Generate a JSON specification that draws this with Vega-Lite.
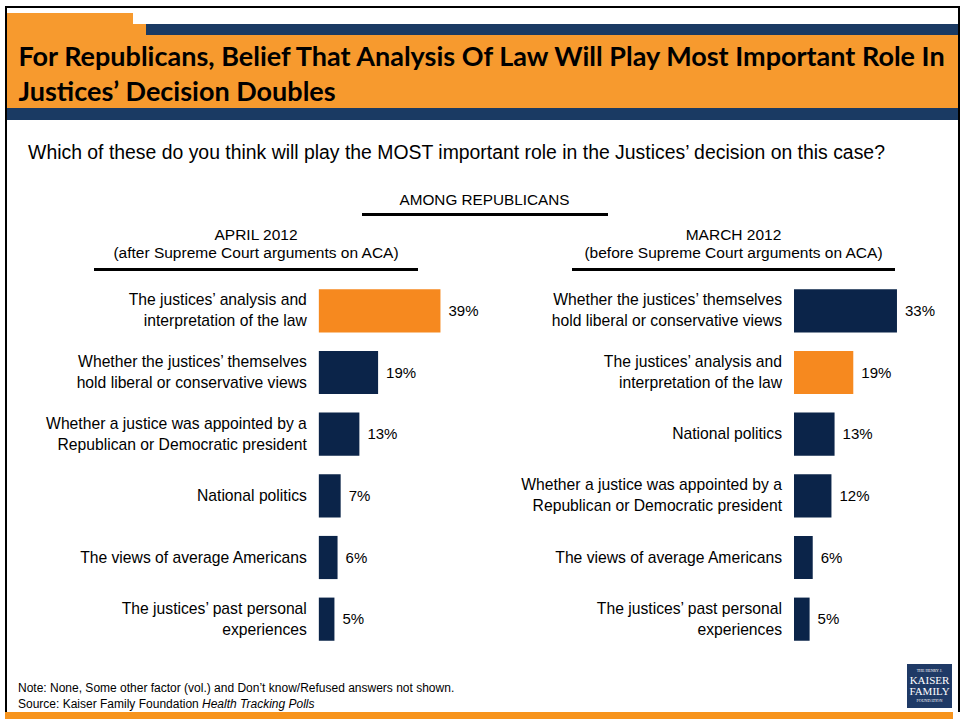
{
  "$schema": "https://vega.github.io/schema/vega-lite/v6.json",
  "padding": {"left": 5, "top": 6, "right": 0, "bottom": 0},
  "background": "white",
  "config": {"font": "Liberation Sans", "view": {"stroke": null}, "concat": {"spacing": 0}},
  "datasets": {
    "april": [
      {"factor": "The justices’ analysis and\ninterpretation of the law", "share": 0.39, "kind": "law"},
      {"factor": "Whether the justices’ themselves\nhold liberal or conservative views", "share": 0.19, "kind": "other"},
      {"factor": "Whether a justice was appointed by a\nRepublican or Democratic president", "share": 0.13, "kind": "other"},
      {"factor": "National politics", "share": 0.07, "kind": "other"},
      {"factor": "The views of average Americans", "share": 0.06, "kind": "other"},
      {"factor": "The justices’ past personal\nexperiences", "share": 0.05, "kind": "other"}
    ],
    "march": [
      {"factor": "Whether the justices’ themselves\nhold liberal or conservative views", "share": 0.33, "kind": "other"},
      {"factor": "The justices’ analysis and\ninterpretation of the law", "share": 0.19, "kind": "law"},
      {"factor": "National politics", "share": 0.13, "kind": "other"},
      {"factor": "Whether a justice was appointed by a\nRepublican or Democratic president", "share": 0.12, "kind": "other"},
      {"factor": "The views of average Americans", "share": 0.06, "kind": "other"},
      {"factor": "The justices’ past personal\nexperiences", "share": 0.05, "kind": "other"}
    ]
  },
  "spacing": 0,
  "vconcat": [
    {
      "spacing": 0,
      "hconcat": [
        {"width": 2, "height": 706, "data": {"values": []}, "mark": "text", "encoding": {}, "view": {"fill": "#000000", "stroke": null}},
        {
          "spacing": 0,
          "vconcat": [
            {"width": 951, "height": 2, "data": {"values": []}, "mark": "text", "encoding": {}, "view": {"fill": "#000000", "stroke": null}},
            {"width": 951, "height": 5, "data": {"values": []}, "mark": "text", "encoding": {}, "view": {"fill": "#ffffff", "stroke": null}},
            {"spacing": 0, "hconcat": [
              {"width": 126, "height": 11, "data": {"values": []}, "mark": "text", "encoding": {}, "view": {"fill": "#F79A2E", "stroke": null}},
              {"width": 825, "height": 11, "data": {"values": []}, "mark": "text", "encoding": {}, "view": {"fill": "#ffffff", "stroke": null}}
            ]},
            {"spacing": 0, "hconcat": [
              {"width": 139, "height": 11, "data": {"values": []}, "mark": "text", "encoding": {}, "view": {"fill": "#F79A2E", "stroke": null}},
              {"width": 812, "height": 11, "data": {"values": []}, "mark": "text", "encoding": {}, "view": {"fill": "#1A3A63", "stroke": null}}
            ]},
            {
              "width": 951, "height": 73,
              "view": {"fill": "#F79A2E", "stroke": null},
              "data": {"values": [{"t": "For Republicans, Belief That Analysis Of Law Will Play Most Important Role In\nJustices’ Decision Doubles"}]},
              "mark": {"type": "text", "align": "left", "baseline": "middle", "dx": -464, "dy": -13.5, "lineBreak": "\n", "fontSize": 27, "lineHeight": 35, "fontWeight": "bold", "font": "Lato", "color": "#000000"},
              "encoding": {"text": {"field": "t"}}
            },
            {"width": 951, "height": 12, "data": {"values": []}, "mark": "text", "encoding": {}, "view": {"fill": "#1A3A63", "stroke": null}},
            {
              "width": 951, "height": 66,
              "data": {"values": [{"t": "Which of these do you think will play the MOST important role in the Justices’ decision on this case?"}]},
              "mark": {"type": "text", "align": "center", "baseline": "middle", "dx": -26, "fontSize": 19.4, "color": "#000000"},
              "encoding": {"text": {"field": "t"}}
            },
            {
              "width": 951, "height": 27,
              "data": {"values": [{"t": "AMONG REPUBLICANS"}]},
              "mark": {"type": "text", "align": "center", "baseline": "middle", "dx": 2, "fontSize": 15.3, "color": "#000000"},
              "encoding": {"text": {"field": "t"}}
            },
            {"spacing": 0, "hconcat": [
              {"width": 355, "height": 3, "data": {"values": []}, "mark": "text", "encoding": {}, "view": {"fill": "#ffffff", "stroke": null}},
              {"width": 246, "height": 3, "data": {"values": []}, "mark": "text", "encoding": {}, "view": {"fill": "#000000", "stroke": null}}
            ]},
            {"spacing": 0, "hconcat": [
              {"width": 87, "height": 52, "data": {"values": []}, "mark": "text", "encoding": {}},
              {
                "width": 324, "height": 52,
                "data": {"values": [{"t": "APRIL 2012\n(after Supreme Court arguments on ACA)"}]},
                "mark": {"type": "text", "align": "center", "baseline": "middle", "dy": -7, "lineBreak": "\n", "lineHeight": 18, "fontSize": 15.5, "color": "#000000"},
                "encoding": {"text": {"field": "t"}}
              },
              {"width": 154, "height": 52, "data": {"values": []}, "mark": "text", "encoding": {}},
              {
                "width": 323, "height": 52,
                "data": {"values": [{"t": "MARCH 2012\n(before Supreme Court arguments on ACA)"}]},
                "mark": {"type": "text", "align": "center", "baseline": "middle", "dy": -7, "lineBreak": "\n", "lineHeight": 18, "fontSize": 15.5, "color": "#000000"},
                "encoding": {"text": {"field": "t"}}
              }
            ]},
            {"spacing": 0, "hconcat": [
              {"width": 87, "height": 3, "data": {"values": []}, "mark": "text", "encoding": {}},
              {"width": 324, "height": 3, "data": {"values": []}, "mark": "text", "encoding": {}, "view": {"fill": "#000000", "stroke": null}},
              {"width": 154, "height": 3, "data": {"values": []}, "mark": "text", "encoding": {}},
              {"width": 323, "height": 3, "data": {"values": []}, "mark": "text", "encoding": {}, "view": {"fill": "#000000", "stroke": null}}
            ]},
            {"width": 951, "height": 9, "data": {"values": []}, "mark": "text", "encoding": {}},
            {"spacing": 0, "hconcat": [
              {
                "width": 474, "height": 370,
                "data": {"name": "april"},
                "encoding": {
                  "y": {"field": "factor", "type": "nominal", "sort": {"field": "share", "op": "max", "order": "descending"}, "axis": null, "scale": {"paddingInner": 0.3, "paddingOuter": 0.15}}
                },
                "layer": [
                  {
                    "mark": {"type": "bar"},
                    "encoding": {
                      "x": {"field": "share", "type": "quantitative", "scale": {"domain": [-1, 0.52], "nice": false, "zero": false}, "axis": null},
                      "color": {"field": "kind", "type": "nominal", "scale": {"domain": ["law", "other"], "range": ["#F6891F", "#0B2449"]}, "legend": null}
                    }
                  },
                  {
                    "transform": [{"filter": "indexof(datum.factor, '\\n') < 0"}],
                    "mark": {"type": "text", "align": "right", "baseline": "middle", "dx": -12, "fontSize": 15.7, "color": "#000000"},
                    "encoding": {
                      "x": {"datum": 0, "type": "quantitative"},
                      "text": {"field": "factor"}
                    }
                  },
                  {
                    "transform": [{"filter": "indexof(datum.factor, '\\n') >= 0"}],
                    "mark": {"type": "text", "align": "right", "baseline": "middle", "dx": -12, "dy": -10.5, "lineBreak": "\n", "lineHeight": 21, "fontSize": 15.7, "color": "#000000"},
                    "encoding": {
                      "x": {"datum": 0, "type": "quantitative"},
                      "text": {"field": "factor"}
                    }
                  },
                  {
                    "mark": {"type": "text", "align": "left", "baseline": "middle", "dx": 8, "fontSize": 15, "color": "#000000"},
                    "encoding": {
                      "x": {"field": "share", "type": "quantitative"},
                      "text": {"field": "share", "type": "quantitative", "format": ".0%"}
                    }
                  }
                ]
              },
              {
                "width": 477, "height": 370,
                "data": {"name": "march"},
                "encoding": {
                  "y": {"field": "factor", "type": "nominal", "sort": {"field": "share", "op": "max", "order": "descending"}, "axis": null, "scale": {"paddingInner": 0.3, "paddingOuter": 0.15}}
                },
                "layer": [
                  {
                    "mark": {"type": "bar"},
                    "encoding": {
                      "x": {"field": "share", "type": "quantitative", "scale": {"domain": [-1.0032, 0.5256], "nice": false, "zero": false}, "axis": null},
                      "color": {"field": "kind", "type": "nominal", "scale": {"domain": ["law", "other"], "range": ["#F6891F", "#0B2449"]}, "legend": null}
                    }
                  },
                  {
                    "transform": [{"filter": "indexof(datum.factor, '\\n') < 0"}],
                    "mark": {"type": "text", "align": "right", "baseline": "middle", "dx": -12, "fontSize": 15.7, "color": "#000000"},
                    "encoding": {
                      "x": {"datum": 0, "type": "quantitative"},
                      "text": {"field": "factor"}
                    }
                  },
                  {
                    "transform": [{"filter": "indexof(datum.factor, '\\n') >= 0"}],
                    "mark": {"type": "text", "align": "right", "baseline": "middle", "dx": -12, "dy": -10.5, "lineBreak": "\n", "lineHeight": 21, "fontSize": 15.7, "color": "#000000"},
                    "encoding": {
                      "x": {"datum": 0, "type": "quantitative"},
                      "text": {"field": "factor"}
                    }
                  },
                  {
                    "mark": {"type": "text", "align": "left", "baseline": "middle", "dx": 8, "fontSize": 15, "color": "#000000"},
                    "encoding": {
                      "x": {"field": "share", "type": "quantitative"},
                      "text": {"field": "share", "type": "quantitative", "format": ".0%"}
                    }
                  }
                ]
              }
            ]},
            {"spacing": 0, "hconcat": [
              {
                "width": 900, "height": 62,
                "layer": [
                  {
                    "data": {"values": [{"t": "Note: None, Some other factor (vol.) and Don’t know/Refused answers not shown."}]},
                    "mark": {"type": "text", "align": "left", "baseline": "middle", "dx": -439, "dy": 7, "fontSize": 12, "color": "#000000"},
                    "encoding": {"text": {"field": "t"}}
                  },
                  {
                    "data": {"values": [{"t": "Source: Kaiser Family Foundation"}]},
                    "mark": {"type": "text", "align": "left", "baseline": "middle", "dx": -439, "dy": 23, "fontSize": 12, "color": "#000000"},
                    "encoding": {"text": {"field": "t"}}
                  },
                  {
                    "data": {"values": [{"t": "Health Tracking Polls"}]},
                    "mark": {"type": "text", "align": "left", "baseline": "middle", "dx": -255, "dy": 23, "fontSize": 12, "fontStyle": "italic", "color": "#000000"},
                    "encoding": {"text": {"field": "t"}}
                  }
                ]
              },
              {"spacing": 0, "vconcat": [
                {"width": 45, "height": 14, "data": {"values": []}, "mark": "text", "encoding": {}},
                {
                  "width": 45, "height": 44,
                  "view": {"fill": "#1F3A66", "stroke": null},
                  "layer": [
                    {
                      "data": {"values": [{"t": "KAISER\nFAMILY"}]},
                      "mark": {"type": "text", "align": "center", "baseline": "middle", "dy": -5.5, "lineBreak": "\n", "lineHeight": 11, "fontSize": 11, "font": "Liberation Serif", "color": "#ffffff"},
                      "encoding": {"text": {"field": "t"}}
                    },
                    {
                      "data": {"values": [{"t": "THE HENRY J."}]},
                      "mark": {"type": "text", "align": "center", "baseline": "middle", "dy": -15, "fontSize": 4, "font": "Liberation Serif", "color": "#ffffff"},
                      "encoding": {"text": {"field": "t"}}
                    },
                    {
                      "data": {"values": [{"t": "FOUNDATION"}]},
                      "mark": {"type": "text", "align": "center", "baseline": "middle", "dy": 15, "fontSize": 4, "font": "Liberation Serif", "color": "#ffffff"},
                      "encoding": {"text": {"field": "t"}}
                    }
                  ]
                },
                {"width": 45, "height": 4, "data": {"values": []}, "mark": "text", "encoding": {}}
              ]}
            ]}
          ]
        },
        {"width": 2, "height": 706, "data": {"values": []}, "mark": "text", "encoding": {}, "view": {"fill": "#000000", "stroke": null}}
      ]
    },
    {"width": 948, "height": 7, "data": {"values": []}, "mark": "text", "encoding": {}, "view": {"fill": "#F7941D", "stroke": null}}
  ]
}
